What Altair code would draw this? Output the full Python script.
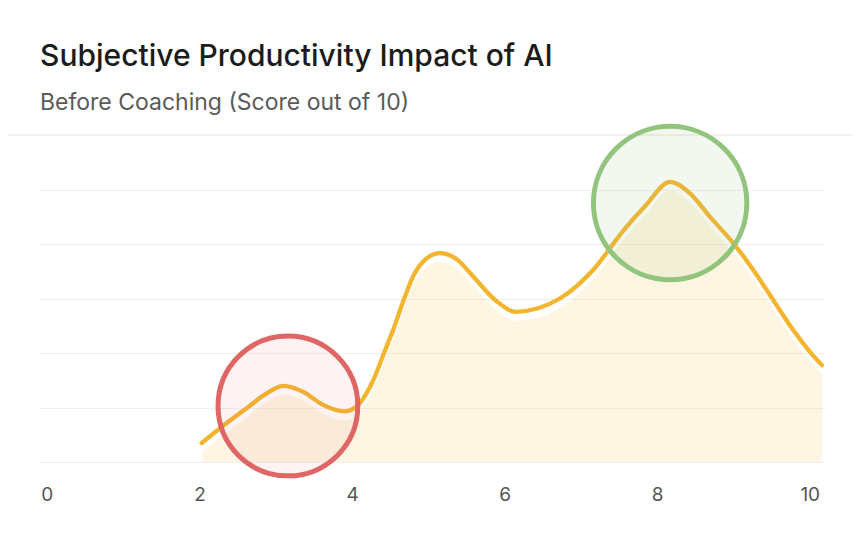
import altair as alt
import pandas as pd

# Score (x) and curve height (y, gridline units)
score = [2.03, 2.27, 2.62, 2.88, 3.10, 3.36, 3.62, 3.91, 4.10, 4.28, 4.41, 4.54,
         4.67, 4.80, 4.93, 5.15, 5.39, 5.55, 5.90, 6.14, 6.73, 7.16, 7.56, 7.84,
         8.17, 8.43, 8.69, 9.00, 9.26, 9.52, 9.78, 10.00, 10.16]
density = [0.35, 0.62, 0.99, 1.26, 1.40, 1.29, 1.05, 0.93, 1.08, 1.51, 1.97, 2.43,
           2.95, 3.41, 3.68, 3.84, 3.71, 3.47, 2.95, 2.76, 3.01, 3.53, 4.26, 4.70,
           5.15, 4.94, 4.51, 4.02, 3.53, 2.98, 2.43, 2.03, 1.78]

# Highlight circles
highlight_label = ["Low", "High"]
highlight_x = [3.16, 8.17]
highlight_y = [1.03, 4.76]

x_ticks = [0, 2, 4, 6, 8, 10]
y_grid = [0, 1, 2, 3, 4, 5]

curve = pd.DataFrame({"score": score, "density": density})
hl = pd.DataFrame({"label": highlight_label, "x": highlight_x, "y": highlight_y})
one = pd.DataFrame({"k": [0]})

xscale = alt.Scale(domain=[-0.09, 10.2], nice=False, zero=False)
yscale = alt.Scale(domain=[0, 5], nice=False)

xenc = alt.X("score:Q", scale=xscale,
             axis=alt.Axis(values=x_ticks, grid=False, domain=False, ticks=False,
                           tickSize=0, labelPadding=23, labelFont="Inter",
                           labelFontSize=19, labelColor="#555555", title=None,
                           format="d"))
yenc = alt.Y("density:Q", scale=yscale,
             axis=alt.Axis(values=y_grid, grid=True, gridColor="#EFEFEF",
                           gridWidth=1, labels=False, ticks=False, domain=False,
                           title=None))

base = alt.Chart(curve)

area = base.mark_area(interpolate="monotone", color="#F6BC3A", fillOpacity=0.14,
                      opacity=1, yOffset=9, clip=True).encode(x=xenc, y=yenc)

line = base.mark_line(interpolate="monotone", color="#F4B52E", strokeWidth=4.3,
                      strokeCap="round").encode(x="score:Q", y="density:Q")

hl_base = alt.Chart(hl).encode(x=alt.X("x:Q", scale=xscale),
                               y=alt.Y("y:Q", scale=yscale))

red = hl_base.transform_filter(alt.datum.label == "Low").mark_circle(
    size=19544, color="#E06666", fillOpacity=0.08, opacity=1,
    stroke="#E06666", strokeWidth=5, strokeOpacity=1)

green = hl_base.transform_filter(alt.datum.label == "High").mark_circle(
    size=23532, color="#93C47D", fillOpacity=0.12, opacity=1,
    stroke="#93C47D", strokeWidth=5, strokeOpacity=1)

separator = alt.Chart(one).mark_rule(color="#E3E3E3", strokeWidth=1).encode(
    x=alt.value(-40), x2=alt.value(830), y=alt.value(-55))

chart = alt.layer(separator, area, line, red, green).properties(
    width=785,
    height=272,
    autosize=alt.AutoSizeParams(type="none"),
    padding={"left": 32, "top": 182, "right": 27, "bottom": 75},
    background="white",
    title=alt.Title(
        text="Subjective Productivity Impact of AI",
        subtitle="Before Coaching (Score out of 10)",
        anchor="start", frame="group",
        font="Inter", fontSize=30, fontWeight=500, color="#1c1c1c",
        subtitleFont="Inter", subtitleFontSize=23, subtitleColor="#5a5a5a",
        subtitlePadding=20, offset=1,
    ),
).configure_view(stroke=None)

chart.save("out.html", embed_options={"renderer": "svg", "actions": False})
